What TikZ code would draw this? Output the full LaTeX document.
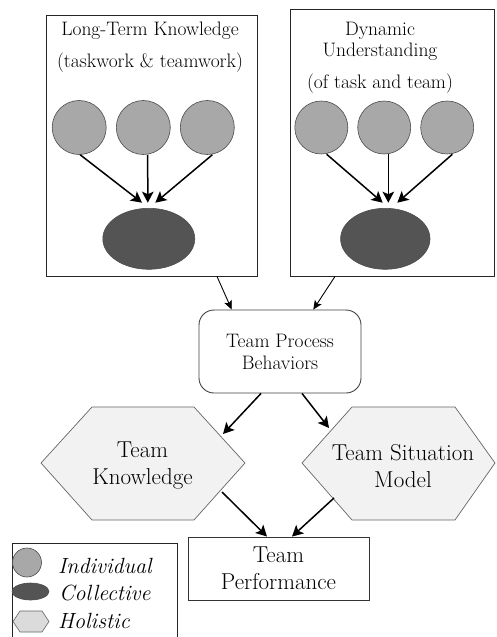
\documentclass[tikz,border=0pt]{standalone}
\usetikzlibrary{shapes.geometric,arrows.meta}
\definecolor{indfill}{gray}{0.66}
\definecolor{colfill}{gray}{0.33}
\definecolor{hexfill}{gray}{0.95}
\definecolor{lhexfill}{gray}{0.86}
\begin{document}
\begin{tikzpicture}[x=1pt,y=-1pt,
  box/.style={draw=black!85,line width=0.9pt,rectangle,inner sep=0},
  ind/.style={circle,draw=black!70,fill=indfill,line width=0.6pt,minimum size=54pt,inner sep=0},
  col/.style={ellipse,draw=black!70,fill=colfill,line width=0.6pt,minimum width=92pt,minimum height=61pt,inner sep=0},
  hdr/.style={font=\fontsize{19.5}{22}\selectfont,anchor=base},
  big/.style={font=\fontsize{23}{27}\selectfont,align=center,inner sep=0},
  hex/.style={draw=black!60,fill=hexfill,line width=0.7pt,line join=miter},
  arr/.style={-{Stealth[length=11pt,width=11.5pt,inset=2.5pt]},line width=1.5pt},
  thinarr/.style={-{Stealth[length=9pt,width=8pt,inset=2pt]},line width=0.9pt},
  leg/.style={font=\fontsize{22}{26.5}\selectfont\itshape,anchor=base west,inner sep=0},
]
\useasboundingbox (0,0) rectangle (496,637);

% top boxes
\node[box,minimum width=211pt,minimum height=261pt] (LB) at (151.5,145.5) {};
\node[box,minimum width=204pt,minimum height=267pt] (RB) at (392,142.5) {};

\node[hdr] (lt1) at (150,35) {Long-Term Knowledge};
\node[hdr] (lt2) at (150,67) {(taskwork \& teamwork)};
\node[hdr] (rt1) at (380,35) {Dynamic};
\node[hdr] (rt2) at (380,56) {Understanding};
\node[hdr] (rt3) at (380,88) {(of task and team)};

% individuals and collectives
\node[ind] (a1) at (79.2,127.5) {};
\node[ind] (a2) at (143.3,127.5) {};
\node[ind] (a3) at (207.3,127.5) {};
\node[col] (ea) at (148.8,238.8) {};

\node[ind,minimum size=53pt] (b1) at (321.3,127.5) {};
\node[ind,minimum size=53pt] (b2) at (384.2,127.5) {};
\node[ind,minimum size=53pt] (b3) at (447.2,127.5) {};
\node[col,minimum width=89.4pt] (eb) at (385.3,238.8) {};

\draw[arr] ([xshift=1pt]a1.south) -- ([xshift=-6.8pt,yshift=5.3pt]ea.north);
\draw[arr] ([xshift=4.4pt]a2.south) -- ([xshift=-1pt,yshift=5.3pt]ea.north);
\draw[arr] ([xshift=5pt]a3.south) -- ([xshift=6.5pt,yshift=5.3pt]ea.north);

\draw[arr] ([xshift=5.4pt]b1.south) -- ([xshift=-2.6pt,yshift=5.3pt]eb.north);
\draw[arr] ([xshift=4.1pt]b2.south) -- ([xshift=3pt,yshift=5.3pt]eb.north);
\draw[arr] ([xshift=5.1pt]b3.south) -- ([xshift=12pt,yshift=5.3pt]eb.north);

% team process behaviors
\node[draw=black!75,line width=0.9pt,rounded corners=15pt,minimum width=162pt,minimum height=83pt,
      font=\fontsize{19.5}{22}\selectfont,align=center] (TPB) at (280,351.5) {Team Process\\Behaviors};

\draw[thinarr] ([xshift=65.5pt]LB.south) -- ([xshift=-48.3pt]TPB.north);
\draw[thinarr] ([xshift=-57pt]RB.south) -- ([xshift=33.3pt]TPB.north);

% hexagons
\draw[hex] (41,463) -- (92,407) -- (194,407) -- (245,463) -- (194,520) -- (92,520) -- cycle;
\node[big] (TK) at (142.5,466) {Team\\Knowledge};
\draw[hex] (302,463) -- (352,407) -- (455,407) -- (495,463) -- (455,520) -- (352,520) -- cycle;
\node[big] (TSM) at (403,466) {Team Situation\\Model};

\coordinate (kin) at (223,434);
\coordinate (sin) at (329,428);
\draw[arr] ([xshift=-19pt]TPB.south) -- (kin);
\draw[arr] ([xshift=22pt]TPB.south) -- (sin);

% team performance
\node[draw=black!80,line width=0.9pt,minimum width=181pt,minimum height=63pt,inner sep=0,
      font=\fontsize{23}{27.5}\selectfont,align=center] (TP) at (278.5,568.5) {Team\\Performance};

\coordinate (kout) at (222,492);
\coordinate (sout) at (334,498);
\draw[arr] (kout) -- ([xshift=-11.5pt]TP.north);
\draw[arr] (sout) -- ([xshift=13.5pt]TP.north);

% legend
\draw[draw=black!85,line width=0.9pt] (12,637) -- (12,543) -- (177,543) -- (177,637);
\node[ind,minimum size=29pt] (li) at (27,562.5) {};
\node[col,minimum width=37pt,minimum height=17pt] (lc) at (30.5,591.5) {};
\draw[draw=black!60,fill=lhexfill,line width=0.6pt] (13,621.5) -- (20,611) -- (42,611) -- (49,621.5) -- (42,632) -- (20,632) -- cycle;
\node[leg] (lt) at (58,573) {Individual};
\node[leg] (ltc) at (59,600) {Collective};
\node[leg] (lth) at (58,628) {Holistic};
\end{tikzpicture}
\end{document}
